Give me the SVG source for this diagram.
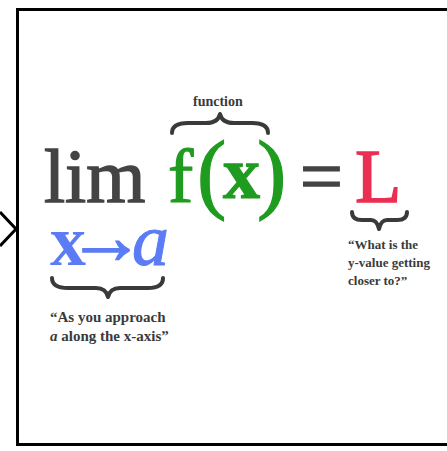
<svg xmlns="http://www.w3.org/2000/svg" width="447" height="451" viewBox="0 0 447 451">
<style>
.serif{font-family:"Liberation Serif","Times New Roman",serif}
.gray{fill:#444;stroke:#444;stroke-width:1.5}
.green{fill:#1f9c1f;stroke:#1f9c1f;stroke-width:1.2}
.red{fill:#ea2f52;stroke:#ea2f52;stroke-width:1.5}
.blue{fill:#5b7cf4;stroke:#5b7cf4;stroke-width:1}
.note{font-family:"Liberation Serif","Times New Roman",serif;font-weight:bold;fill:#3a3a3a}
.brace{fill:none;stroke:#3a3a3a;stroke-width:4;stroke-linecap:round;stroke-linejoin:round}
</style>
<g id="connectors">
<polyline points="0,212 16,229 0,246" fill="none" stroke="#000" stroke-width="3"/>
</g>
<g id="limit-box">
<rect x="17.5" y="9.5" width="450" height="435" fill="#fff" stroke="#000" stroke-width="3"/>
<text class="serif gray" x="44" y="202" font-size="76">lim</text>
<text class="serif green" x="168" y="202" font-size="76">f</text>
<text class="serif green" x="197" y="202" font-size="88" stroke-width="0">(</text>
<text class="serif green" x="223" y="198" font-size="74" font-weight="bold" stroke-width="0">x</text>
<text class="serif green" x="257" y="202" font-size="88" stroke-width="0">)</text>
<text class="serif gray" x="300" y="202" font-size="76">=</text>
<text class="serif red" x="355" y="202" font-size="76">L</text>
<text class="serif blue" x="50" y="265"><tspan font-size="72" font-weight="bold" stroke-width="0">x</tspan><tspan font-size="78" stroke-width="1.5" dx="-19" dy="-2">→</tspan><tspan font-size="74" font-style="italic" dx="-13" dy="2">a</tspan></text>
<path class="brace" d="M172,133 Q172,123 188,123 L206,123 Q218,123 220,114 Q222,123 234,123 L252,123 Q268,123 268,133"/>
<path class="brace" d="M52,278 Q52,288 68,288 L96,288 Q106,288 108,297 Q110,288 120,288 L148,288 Q163,288 163,278"/>
<path class="brace" d="M352,212 Q352,220 362,220 L371,220 Q377,220 379,229 Q381,220 387,220 L397,220 Q407,220 407,212"/>
<text class="note" x="193" y="106" font-size="14">function</text>
<text class="note" x="348" y="249" font-size="13">“What is the</text>
<text class="note" x="348" y="267" font-size="13">y-value getting</text>
<text class="note" x="348" y="285" font-size="13">closer to?”</text>
<text class="note" x="50" y="322" font-size="15">“As you approach</text>
<text class="note" x="50" y="341" font-size="15"><tspan font-style="italic">a</tspan> along the x-axis”</text>
</g>
</svg>
